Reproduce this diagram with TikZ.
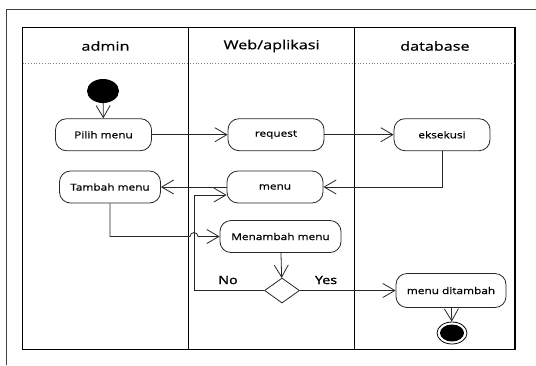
\documentclass[tikz,border=0pt]{standalone}
\usepackage{fontspec}
\setmainfont{Open Sans}
\newfontfamily\lanefont[FakeStretch=1.3,FakeBold=0.6]{Open Sans}
\newfontfamily\boxfont[FakeStretch=1.25,FakeBold=0.8]{Open Sans}
\newfontfamily\lblfont[FakeStretch=1.25,FakeBold=1.6]{Open Sans}
\usetikzlibrary{arrows.meta,shapes.geometric,calc}
\begin{document}
\begin{tikzpicture}[x=1bp,y=-1bp,
  act/.style={draw=black!85, line width=0.8bp, rounded corners=11bp,
    font=\boxfont\fontsize{9.5}{11}\selectfont, text=black, inner sep=0pt,
    minimum height=32bp},
  flow/.style={draw=black!85, line width=0.8bp, -{Straight Barb[length=12bp,width=14bp]}},
  lane/.style={line width=1.1bp, draw=black},
  head/.style={font=\lanefont\fontsize{12.5}{15}\selectfont, text=black},
  lbl/.style={font=\lblfont\fontsize{11.5}{13}\selectfont, text=black}]
\useasboundingbox (0,0) rectangle (536,365);
% outer frame
\draw[line width=0.9bp, black!75] (6.8,365) -- (6.8,9.6) -- (536,9.6);
% swimlanes
\draw[lane] (22.5,27.3) rectangle (515,349.5);
\draw[lane] (188.6,27.3) -- (188.6,349.5);
\draw[lane] (354.7,27.3) -- (354.7,349.5);
\draw[black!50, line width=0.8bp, dotted] (22.5,63) -- (515,63);
\node[head] (hA) at (105.5,46) {admin};
\node[head] (hW) at (271.6,46) {Web/aplikasi};
\node[head] (hD) at (434.9,46) {database};
% nodes
\node[fill=black, ellipse, minimum width=32bp, minimum height=24bp, inner sep=0pt] (start) at (103,91) {};
\node[act, minimum width=96bp] (pilih) at (103.5,134.7) {Pilih menu};
\node[act, minimum width=96bp] (req) at (276,134.7) {request};
\node[act, minimum width=96bp] (eks) at (442,134.7) {eksekusi};
\node[act, minimum width=101bp] (tambah) at (110,187) {Tambah menu};
\node[act, minimum width=96bp] (menu) at (275,187) {menu};
\node[act, minimum width=121bp] (menambah) at (280.5,236.5) {Menambah menu};
\node[diamond, draw=black!85, line width=0.8bp, minimum width=35bp, minimum height=25bp, aspect=1.4, inner sep=0pt] (dia) at (282,290.5) {};
\node[act, minimum width=110bp, minimum height=34bp] (dit) at (451,290.5) {menu ditambah};
\node[ellipse, draw=black, line width=0.8bp, minimum width=30bp, minimum height=22bp, inner sep=0pt] (end) at (452,333) {};
\node[ellipse, fill=black, minimum width=24bp, minimum height=17bp, inner sep=0pt] (endin) at (452,333) {};
\node[lbl] (no) at (228,280) {No};
\node[lbl] (yes) at (326,280) {Yes};
\coordinate (loopx) at (194,290.5);
% connectors
\draw[flow] (start) -- (pilih);
\draw[flow] (pilih) -- (req);
\draw[flow] (req) -- (eks);
\draw[flow] (eks.south) |- (menu.east);
\draw[flow] (menu.west) -- (tambah.east);
\draw[flow] (tambah.south) |- ($(loopx |- menambah.west)+(-4,0)$)
  arc[start angle=180, end angle=360, radius=4] -- (menambah.west);
\draw[flow] (menambah) -- (dia);
\draw[flow] (dia.west) -- (loopx) |- ([yshift=-8bp]menu.west);
\draw[flow] (dia.east) -- (dit.west);
\draw[flow] (dit) -- (end);
\end{tikzpicture}
\end{document}
